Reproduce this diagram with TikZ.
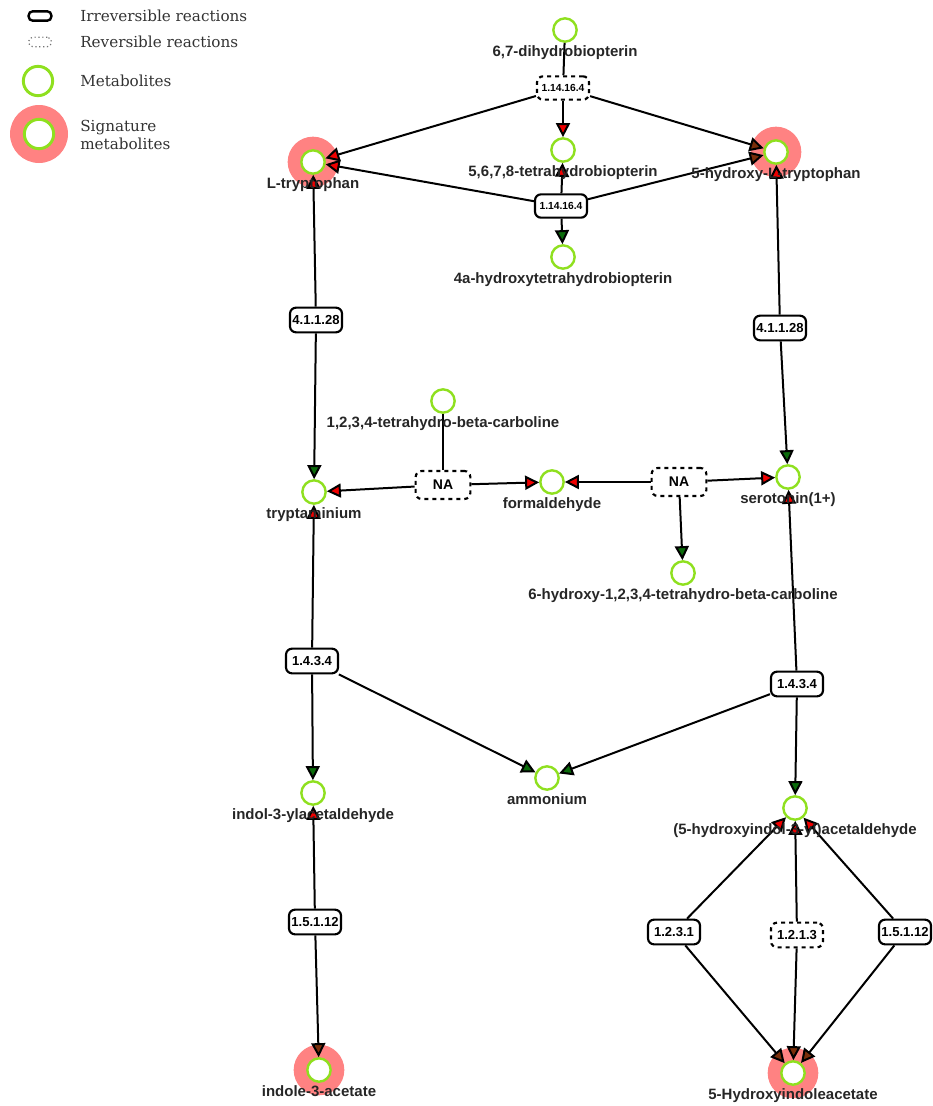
\documentclass[tikz,border=0pt]{standalone}
\usepackage{fontspec}
\setmainfont{Liberation Sans}
\newfontfamily\legendfont{DejaVu Serif}
\usepackage{tikz}
\usetikzlibrary{
	arrows.meta,
	positioning,
	backgrounds,
	shapes
	}
\definecolor{vertmet}{HTML}{8FE01F}
\definecolor{rougesig}{HTML}{FF8282}
\definecolor{vertfl}{HTML}{0B6B0B}
\definecolor{rougefl}{HTML}{F00000}
\definecolor{brunfl}{HTML}{7A2E0A}
\tikzset{font={\fontsize{11.25}{13}\selectfont}}
\tikzstyle{noeud-met}=[draw=vertmet,fill=white,circle,line width=1.8pt,inner sep=0pt,minimum size=17.5pt]
\tikzstyle{reac-irr}=[draw,fill=white,rounded corners=4.5pt,line width=1.6pt,inner sep=1pt,minimum width=39pt,minimum height=18.5pt,font={\bfseries\fontsize{9.8}{11}\selectfont}]
\tikzstyle{reac-rev}=[reac-irr,dashed]
\tikzstyle{reac-pte}=[font={\bfseries\fontsize{7.7}{9}\selectfont},minimum height=17.5pt]
\tikzstyle{reac-na}=[reac-rev,minimum width=41pt,minimum height=21pt,font={\bfseries\fontsize{10.5}{12}\selectfont}]
\tikzstyle{etiq}=[font={\bfseries\fontsize{11.25}{13}\selectfont},text=black!85,inner sep=0pt]
\tikzstyle{leg-txt}=[font={\legendfont\fontsize{11.4}{13}\selectfont},text=black!80,inner sep=0pt,anchor=west]
\tikzstyle{lien}=[line width=1.5pt]
\tikzstyle{fl-sub}=[lien,-{Triangle[length=10.5pt,width=10.5pt,fill=rougefl]}]
\tikzstyle{fl-prod}=[lien,-{Triangle[length=10.5pt,width=10.5pt,fill=vertfl]}]
\tikzstyle{fl-sig}=[lien,-{Triangle[length=10.5pt,width=10.5pt,fill=brunfl]}]
\newcommand{\halo}[2][19pt]{\fill[rougesig] (#2) circle[radius=#1];}

\begin{document}
\begin{tikzpicture}[x=0.75pt,y=-0.75pt]
            \useasboundingbox (0,0) rectangle (932,1106);
            % legend
            \node[draw,line width=1.8pt,rounded corners=3pt,minimum width=17pt,minimum height=7pt,inner sep=0pt] (leg-irr) at (40,16) {};
            \node[draw=black!55,dotted,line width=0.9pt,rounded corners=3pt,minimum width=17pt,minimum height=7pt,inner sep=0pt] (leg-rev) at (40,42) {};
            \node[noeud-met,line width=2.2pt,minimum size=22pt] (leg-met) at (38,81) {};
            \node[noeud-met,line width=2.2pt,minimum size=22pt] (leg-sig) at (39,134) {};
            \node[leg-txt] (txt-irr) at (80,16) {Irreversible reactions};
            \node[leg-txt] (txt-rev) at (80,42) {Reversible reactions};
            \node[leg-txt] (txt-met) at (80,81) {Metabolites};
            \node[leg-txt,align=left] (txt-sig) at (80,135) {Signature\\metabolites};
            %
            % metabolites
            \node[noeud-met] (dhb) at (565,30) {};
            \node[noeud-met] (thb) at (563,150) {};
            \node[noeud-met] (hthb) at (563,257) {};
            \node[noeud-met] (trp) at (313,162) {};
            \node[noeud-met] (htrp) at (776,152) {};
            \node[noeud-met] (thbc) at (443,401) {};
            \node[noeud-met] (trya) at (314,492) {};
            \node[noeud-met] (form) at (552,482) {};
            \node[noeud-met] (sero) at (788,477) {};
            \node[noeud-met] (hthbc) at (683,573) {};
            \node[noeud-met] (amm) at (547,778) {};
            \node[noeud-met] (iald) at (313,793) {};
            \node[noeud-met] (hiald) at (795,808) {};
            \node[noeud-met] (iaa) at (319,1070) {};
            \node[noeud-met] (hiaa) at (793,1073) {};
            %
            % reactions
            \node[reac-rev,reac-pte] (r1) at (563,88) {1.14.16.4};
            \node[reac-irr,reac-pte] (r2) at (561,206) {1.14.16.4};
            \node[reac-irr] (r3) at (316,320) {4.1.1.28};
            \node[reac-irr] (r4) at (780,328) {4.1.1.28};
            \node[reac-na] (na1) at (443,485) {NA};
            \node[reac-na] (na2) at (679,482) {NA};
            \node[reac-irr] (r5) at (312,661) {1.4.3.4};
            \node[reac-irr] (r6) at (797,684) {1.4.3.4};
            \node[reac-irr] (r7) at (315,922) {1.5.1.12};
            \node[reac-irr] (r8) at (674,932) {1.2.3.1};
            \node[reac-rev] (r9) at (797,935) {1.2.1.3};
            \node[reac-irr] (r10) at (905,932) {1.5.1.12};
            %
            \begin{scope}[on background layer]
                \halo[21.75pt]{leg-sig}
                \halo{trp}
                \halo{htrp}
                \halo{iaa}
                \halo{hiaa}
            \end{scope}
            %
            \draw[lien] (r1) -- (dhb);
            \draw[fl-sub] (r1) -- (trp);
            \draw[fl-sig] (r1) -- (htrp);
            \draw[fl-sub] (r1) -- (thb);
            \draw[fl-sub] (r2) -- (thb);
            \draw[fl-sub] (r2) -- (trp);
            \draw[fl-sig] (r2) -- (htrp);
            \draw[fl-prod] (r2) -- (hthb);
            \draw[fl-sub] (r3) -- (trp);
            \draw[fl-prod] (r3) -- (trya);
            \draw[fl-sub] (r4) -- (htrp);
            \draw[fl-prod] (r4) -- (sero);
            \draw[lien] (na1) -- (thbc);
            \draw[fl-sub] (na1) -- (trya);
            \draw[fl-sub] (na1) -- (form);
            \draw[fl-sub] (na2) -- (form);
            \draw[fl-sub] (na2) -- (sero);
            \draw[fl-prod] (na2) -- (hthbc);
            \draw[fl-sub] (r5) -- (trya);
            \draw[fl-prod] (r5) -- (iald);
            \draw[fl-prod] (r5) -- (amm);
            \draw[fl-sub] (r6) -- (sero);
            \draw[fl-prod] (r6) -- (amm);
            \draw[fl-prod] (r6) -- (hiald);
            \draw[fl-sub] (r7) -- (iald);
            \draw[fl-sig] (r7) -- (iaa);
            \draw[fl-sub] (r8) -- (hiald);
            \draw[fl-sub] (r9) -- (hiald);
            \draw[fl-sub] (r10) -- (hiald);
            \draw[fl-sig] (r8) -- (hiaa);
            \draw[fl-sig] (r9) -- (hiaa);
            \draw[fl-sig] (r10) -- (hiaa);
            %
            % labels
            \node[etiq,below=11.5pt] (l-dhb) at (dhb) {6,7-dihydrobiopterin};
            \node[etiq,below=11.5pt] (l-thb) at (thb) {5,6,7,8-tetrahydrobiopterin};
            \node[etiq,below=11.5pt] (l-hthb) at (hthb) {4a-hydroxytetrahydrobiopterin};
            \node[etiq,below=11.5pt] (l-trp) at (trp) {L-tryptophan};
            \node[etiq,below=11.5pt] (l-htrp) at (htrp) {5-hydroxy-L-tryptophan};
            \node[etiq,below=11.5pt] (l-thbc) at (thbc) {1,2,3,4-tetrahydro-beta-carboline};
            \node[etiq,below=11.5pt] (l-trya) at (trya) {tryptaminium};
            \node[etiq,below=11.5pt] (l-form) at (form) {formaldehyde};
            \node[etiq,below=11.5pt] (l-sero) at (sero) {serotonin(1+)};
            \node[etiq,below=11.5pt] (l-hthbc) at (hthbc) {6-hydroxy-1,2,3,4-tetrahydro-beta-carboline};
            \node[etiq,below=11.5pt] (l-amm) at (amm) {ammonium};
            \node[etiq,below=11.5pt] (l-iald) at (iald) {indol-3-ylacetaldehyde};
            \node[etiq,below=11.5pt] (l-hiald) at (hiald) {(5-hydroxyindol-3-yl)acetaldehyde};
            \node[etiq,below=11.5pt] (l-iaa) at (iaa) {indole-3-acetate};
            \node[etiq,below=11.5pt] (l-hiaa) at (hiaa) {5-Hydroxyindoleacetate};
        \end{tikzpicture}
\end{document}
